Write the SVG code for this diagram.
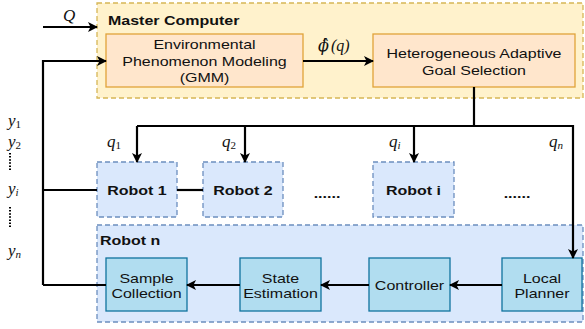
<svg xmlns="http://www.w3.org/2000/svg" width="585" height="329" viewBox="0 0 585 329">
<defs>
<marker id="arr" viewBox="0 0 10 10" refX="9" refY="5" markerWidth="10" markerHeight="10" markerUnits="userSpaceOnUse" orient="auto">
<path d="M0,0 L10,5 L0,10 L2.5,5 Z" fill="#000"/>
</marker>
<style>
.grp{fill:#fff2cc;stroke:#d6b656;stroke-width:1.3;stroke-dasharray:5 3}
.org{fill:#ffe6cc;stroke:#e0a33a;stroke-width:1.3}
.rob{fill:#dae8fc;stroke:#6c8ebf;stroke-width:1.3;stroke-dasharray:5 3}
.blu{fill:#b1ddf0;stroke:#10739e;stroke-width:1.3}
.t{font-family:"Liberation Sans",Arial,sans-serif;font-size:13px;fill:#111;text-anchor:middle}
.b{font-family:"Liberation Sans",Arial,sans-serif;font-size:13px;font-weight:bold;fill:#111}
.m{font-family:"Liberation Serif","Times New Roman",serif;font-style:italic;font-size:17px;fill:#111}
.s{font-style:normal;font-size:11px}
.si{font-size:11px}
.c{fill:none;stroke:#000;stroke-width:2.2}
.ca{fill:none;stroke:#000;stroke-width:2.2;marker-end:url(#arr)}
.dot{fill:none;stroke:#000;stroke-width:2;stroke-dasharray:1.5 1.6}
</style>
</defs>

<g id="master">
<rect class="grp" x="97" y="3" width="486" height="95"/>
<text class="b" transform="translate(108 24.5) scale(1.23 1)">Master Computer</text>
</g>
<g id="gmm">
<rect class="org" x="106" y="34" width="197" height="53"/>
<text class="t" transform="translate(204.5 48.5) scale(1.23 1)">Environmental</text>
<text class="t" transform="translate(204.5 65.5) scale(1.23 1)">Phenomenon Modeling</text>
<text class="t" transform="translate(204.5 82) scale(1.23 1)">(GMM)</text>
</g>
<g id="goal">
<rect class="org" x="373" y="34" width="202" height="53"/>
<text class="t" transform="translate(474 57.5) scale(1.23 1)">Heterogeneous Adaptive</text>
<text class="t" transform="translate(474 74.5) scale(1.23 1)">Goal Selection</text>
</g>

<g id="robot1">
<rect class="rob" x="97" y="162" width="80" height="55"/>
<text class="b" text-anchor="middle" transform="translate(137 194.5) scale(1.23 1)">Robot 1</text>
</g>
<g id="robot2">
<rect class="rob" x="203" y="162" width="80" height="55"/>
<text class="b" text-anchor="middle" transform="translate(243 194.5) scale(1.23 1)">Robot 2</text>
</g>
<g id="roboti">
<rect class="rob" x="373" y="162" width="81" height="55"/>
<text class="b" text-anchor="middle" transform="translate(413.5 194.5) scale(1.23 1)">Robot i</text>
</g>
<g id="dots">
<text class="b" text-anchor="middle" transform="translate(327 198) scale(1.23 1)">......</text>
<text class="b" text-anchor="middle" transform="translate(517 198) scale(1.23 1)">......</text>
</g>

<g id="robotn">
<rect class="rob" x="97" y="225" width="486" height="97"/>
<text class="b" transform="translate(100 245) scale(1.23 1)">Robot n</text>
</g>
<g id="sample">
<rect class="blu" x="106" y="258" width="81" height="53"/>
<text class="t" transform="translate(146.5 282.5) scale(1.23 1)">Sample</text>
<text class="t" transform="translate(146.5 297.5) scale(1.23 1)">Collection</text>
</g>
<g id="state">
<rect class="blu" x="240" y="258" width="81" height="53"/>
<text class="t" transform="translate(280.5 282.5) scale(1.23 1)">State</text>
<text class="t" transform="translate(280.5 297.5) scale(1.23 1)">Estimation</text>
</g>
<g id="controller">
<rect class="blu" x="369" y="258" width="81" height="53"/>
<text class="t" transform="translate(409.5 289.5) scale(1.23 1)">Controller</text>
</g>
<g id="planner">
<rect class="blu" x="502" y="258" width="80" height="53"/>
<text class="t" transform="translate(542 282.5) scale(1.23 1)">Local</text>
<text class="t" transform="translate(542 297.5) scale(1.23 1)">Planner</text>
</g>

<g id="connectors">
<path class="ca" d="M43,27 L97,27"/>
<path class="ca" d="M43,285 L43,61 L106,61"/>
<path class="c" d="M43,285 L106,285"/>
<path class="c" d="M43,190 L97,190"/>
<path class="c" d="M177,190 L203,190"/>
<path class="ca" d="M303,61 L373,61"/>
<path class="c" d="M474,87 L474,126"/>
<path class="ca" d="M137,126 L573,126 L573,258"/>
<path class="ca" d="M137,126 L137,162"/>
<path class="ca" d="M245,126 L245,162"/>
<path class="ca" d="M414,126 L414,162"/>
<path class="ca" d="M502,285 L450,285"/>
<path class="ca" d="M369,285 L321,285"/>
<path class="ca" d="M240,285 L187,285"/>
</g>

<g id="labels">
<text class="m" x="63" y="21">Q</text>
<text class="m" x="318" y="51" font-size="17"><tspan font-family="'DejaVu Serif',serif" font-size="16">ϕ̂</tspan><tspan dx="2" font-size="16">(q)</tspan></text>
<text class="m" x="107" y="147">q<tspan class="s" dy="2">1</tspan></text>
<text class="m" x="222" y="147">q<tspan class="s" dy="2">2</tspan></text>
<text class="m" x="389" y="147">q<tspan class="si" dy="2">i</tspan></text>
<text class="m" x="549" y="147">q<tspan class="si" dy="2">n</tspan></text>
<text class="m" x="8" y="126">y<tspan class="s" dy="2">1</tspan></text>
<text class="m" x="8" y="147">y<tspan class="s" dy="2">2</tspan></text>
<text class="m" x="8" y="194">y<tspan class="si" dy="2">i</tspan></text>
<text class="m" x="8" y="256">y<tspan class="si" dy="2">n</tspan></text>
<path class="dot" d="M10,153 L10,170"/>
<path class="dot" d="M10,207 L10,228"/>
</g>
</svg>
